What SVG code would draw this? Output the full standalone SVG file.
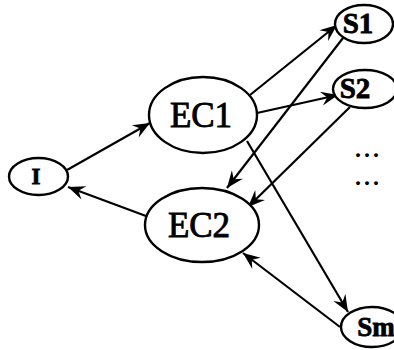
<svg xmlns="http://www.w3.org/2000/svg" width="394" height="350" viewBox="0 0 394 350">
  <defs>
    <marker id="arrow" markerUnits="userSpaceOnUse" markerWidth="20" markerHeight="16" viewBox="-18 -8 20 16" refX="0" refY="0" orient="auto">
      <path d="M0,0 L-17,-7 L-11,0 L-17,7 Z" fill="#000"/>
    </marker>
  </defs>
  <style>
    .node ellipse { fill: #fff; stroke: #000; stroke-width: 2.4; }
    .lbl { font-family: "Liberation Serif", "Times New Roman", serif; fill: #000; text-anchor: middle; }
    .big { font-size: 35px; stroke: #000; stroke-width: 0.9; }
    .small { font-size: 29px; font-weight: bold; stroke: #000; stroke-width: 0.8; }
    .dots { font-size: 24px; font-weight: bold; letter-spacing: 3px; text-anchor: start; }
    .edge { fill: none; stroke: #000; stroke-width: 2.2; marker-end: url(#arrow); }
  </style>

  <g id="connectors">
    <line class="edge" x1="67" y1="170" x2="150" y2="123"/>
    <line class="edge" x1="146" y1="216" x2="68" y2="187"/>
    <line class="edge" x1="250" y1="95" x2="337" y2="25"/>
    <line class="edge" x1="257" y1="113" x2="338" y2="95"/>
    <line class="edge" x1="247" y1="141" x2="348" y2="312"/>
    <line class="edge" x1="343" y1="38" x2="227" y2="188"/>
    <line class="edge" x1="350" y1="107" x2="248" y2="207"/>
    <line class="edge" x1="340" y1="327" x2="243" y2="253"/>
  </g>

  <g id="node-I" class="node">
    <ellipse cx="38.5" cy="176.5" rx="29.5" ry="18.5"/>
    <text class="lbl small" x="36" y="184" style="font-size:23px">I</text>
  </g>

  <g id="node-EC1" class="node">
    <ellipse cx="203" cy="115" rx="54" ry="38"/>
    <text class="lbl big" x="201" y="127">EC1</text>
  </g>

  <g id="node-EC2" class="node">
    <ellipse cx="202" cy="225" rx="57" ry="37"/>
    <text class="lbl big" x="199" y="237">EC2</text>
  </g>

  <g id="node-S1" class="node">
    <ellipse cx="364" cy="24" rx="29" ry="19"/>
    <text class="lbl small" x="358" y="33">S1</text>
  </g>

  <g id="node-S2" class="node">
    <ellipse cx="365" cy="89" rx="32" ry="19"/>
    <text class="lbl small" x="355" y="98">S2</text>
  </g>

  <g id="node-Sm" class="node">
    <ellipse cx="372" cy="327" rx="31" ry="20"/>
    <text class="lbl small" x="376" y="336" style="font-size:27px">Sm</text>
  </g>

  <g id="ellipsis">
    <text class="lbl dots" x="355" y="157">...</text>
    <text class="lbl dots" x="355" y="185">...</text>
  </g>
</svg>
